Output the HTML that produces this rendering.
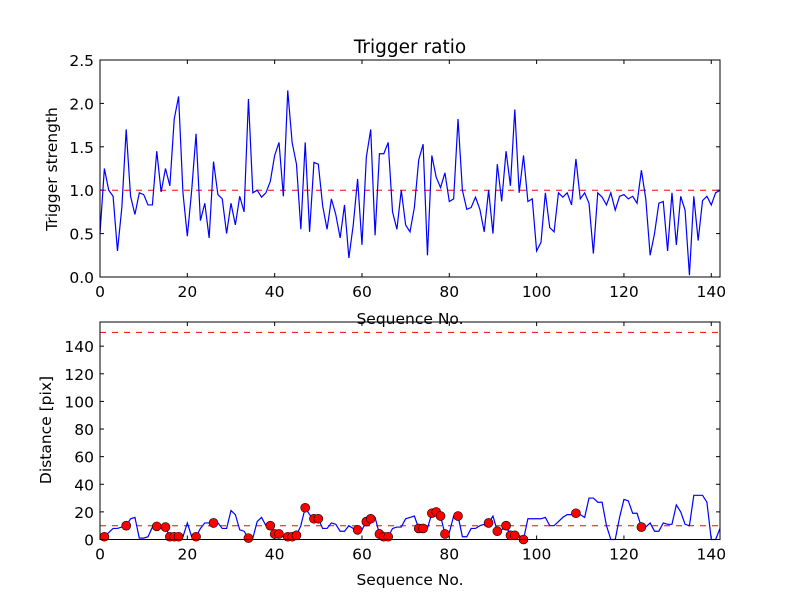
<!DOCTYPE html>
<html><head><meta charset="utf-8"><style>
body{margin:0;background:#fff;}
svg text{font-family:"DejaVu Sans","Liberation Sans",sans-serif;}
</style></head><body>
<svg id="c" width="800" height="600" xmlns="http://www.w3.org/2000/svg"></svg>
<script>
const ratio=[0.5,1.25,1.0,0.93,0.3,0.8,1.7,0.93,0.72,0.97,0.95,0.83,0.83,1.45,0.98,1.25,1.05,1.82,2.08,0.97,0.47,1.0,1.65,0.65,0.85,0.45,1.33,0.95,0.9,0.5,0.85,0.6,0.93,0.75,2.05,0.97,1.0,0.92,0.97,1.1,1.4,1.55,0.93,2.15,1.55,1.3,0.55,1.55,0.52,1.32,1.3,0.82,0.55,0.9,0.72,0.45,0.83,0.22,0.6,1.13,0.37,1.38,1.7,0.48,1.42,1.42,1.55,0.75,0.55,1.0,0.6,0.52,0.8,1.35,1.53,0.25,1.4,1.15,1.03,1.2,0.87,0.9,1.82,1.0,0.78,0.8,0.92,0.78,0.52,1.0,0.5,1.3,0.87,1.45,1.05,1.93,0.97,1.4,0.87,0.9,0.3,0.4,0.97,0.57,0.52,0.97,0.92,0.97,0.83,1.36,0.9,0.97,0.85,0.27,0.97,0.92,0.83,0.97,0.77,0.93,0.95,0.9,0.93,0.85,1.23,0.9,0.25,0.5,0.85,0.87,0.3,0.97,0.37,0.93,0.77,0.02,0.93,0.42,0.88,0.93,0.83,0.97,1.0];
const dist=[2,2,5,8,8,9,10,15,16,1,1,2,9,9.5,8,9,2,2,2,2,12,2,2,8,12,12,12,12,8,8,21,18,7,6,1,1,13,16,10,10,4,4,2,2,2,3,10,23,18,15,15,8,8,12,11,6,6,10,8,7,7,13,15,16,4,2,2,8,9,9,15,16,17,8,8,8,19,20,17,4,5,17,17,2,2,8,8,10,11,12,17,6,7,10,3,3,3,0,15,15,15,15,16,10,10,13,16,18,18,19,18,16,30,30,27,27,10,0,0,16,29,28,19,19,9,9,12,6,6,12,11,11,25,20,11,10,32,32,32,27,0,0,8];
const dotIdx=[1,6,13,15,16,17,18,22,26,34,39,40,41,43,44,45,47,49,50,59,61,62,64,65,66,73,74,76,77,78,79,82,89,91,93,94,95,97,109,124];
const xTicks=[0,20,40,60,80,100,120,140];
const yTicksTop=[0.0,0.5,1.0,1.5,2.0,2.5];
const yTicksBot=[0,20,40,60,80,100,120,140];
const ratioThresh=1.0, distThresh=[10,150];

const svg=document.getElementById('c');const NS='http://www.w3.org/2000/svg';
function mk(t,a,p){const e=document.createElementNS(NS,t);for(const k in a)e.setAttribute(k,a[k]);(p||svg).appendChild(e);return e;}
const L=100,R=720;
const xs=v=>L+(v-0)/(142-0)*(R-L);
const P1={t:60,b:277,min:0,max:2.5}, P2={t:322,b:539.5,min:0,max:157.5};
const ys=(P,v)=>P.b-(v-P.min)/(P.max-P.min)*(P.b-P.t);

function axes(P,yt,fmt,nm){
  const g=mk('g',{});
  
  
  mk('rect',{x:L,y:P.t,width:R-L,height:P.b-P.t,fill:'#fff'},g);
  xTicks.forEach(v=>{const x=xs(v);
    const l1=mk('line',{x1:x,x2:x,y1:P.b,y2:P.b-4,stroke:'#000'},g);
    
    mk('line',{x1:x,x2:x,y1:P.t,y2:P.t+4,stroke:'#000'},g);
    const t=mk('text',{x:x,y:P.b+20,'text-anchor':'middle','font-size':15.5},g);t.textContent=v;
    });
  yt.forEach(v=>{const y=ys(P,v);
    const l1=mk('line',{x1:L,x2:L+4,y1:y,y2:y,stroke:'#000'},g);
    
    mk('line',{x1:R,x2:R-4,y1:y,y2:y,stroke:'#000'},g);
    const t=mk('text',{x:L-6,y:y+6,'text-anchor':'end','font-size':15.5},g);t.textContent=fmt(v);
    });
  return g;
}
const g1=axes(P1,yTicksTop,v=>v.toFixed(1),'trigger-axes');
const g2=axes(P2,yTicksBot,v=>String(v),'distance-axes');

let th=mk('line',{x1:L,x2:R,y1:ys(P1,ratioThresh),y2:ys(P1,ratioThresh),stroke:'#f00','stroke-dasharray':'6,6'});

distThresh.forEach(v=>{const l=mk('line',{x1:L,x2:R,y1:ys(P2,v),y2:ys(P2,v),stroke:'#f00','stroke-dasharray':'6,6'});
  });

let p1=mk('polyline',{points:ratio.map((v,i)=>xs(i)+','+ys(P1,v)).join(' '),fill:'none',stroke:'#00f','stroke-width':1.2});

let p2=mk('polyline',{points:dist.map((v,i)=>xs(i)+','+ys(P2,v)).join(' '),fill:'none',stroke:'#00f','stroke-width':1.2});

dotIdx.forEach(i=>{const c=mk('circle',{cx:xs(i),cy:ys(P2,dist[i]),r:4.5,fill:'#f00',stroke:'#000','stroke-width':0.6});
  });

[P1,P2].forEach(P=>{const f=mk('rect',{x:L,y:P.t,width:R-L,height:P.b-P.t,fill:'none',stroke:'#000','stroke-width':1});
  });

function txt(s,a,nm){const t=mk('text',a);t.textContent=s;}
txt('Trigger ratio',{x:410,y:53,'text-anchor':'middle','font-size':18.5},'chart-title');
txt('Sequence No.',{x:410,y:324,'text-anchor':'middle','font-size':15.5},'top-x-axis-title');
txt('Sequence No.',{x:410,y:585,'text-anchor':'middle','font-size':15.5},'bottom-x-axis-title');
txt('Trigger strength',{x:0,y:0,'text-anchor':'middle','font-size':15.5,transform:'translate(57,169) rotate(-90)'},'top-y-axis-title');
txt('Distance [pix]',{x:0,y:0,'text-anchor':'middle','font-size':15.5,transform:'translate(51,430) rotate(-90)'},'bottom-y-axis-title');
</script>
</body></html>
